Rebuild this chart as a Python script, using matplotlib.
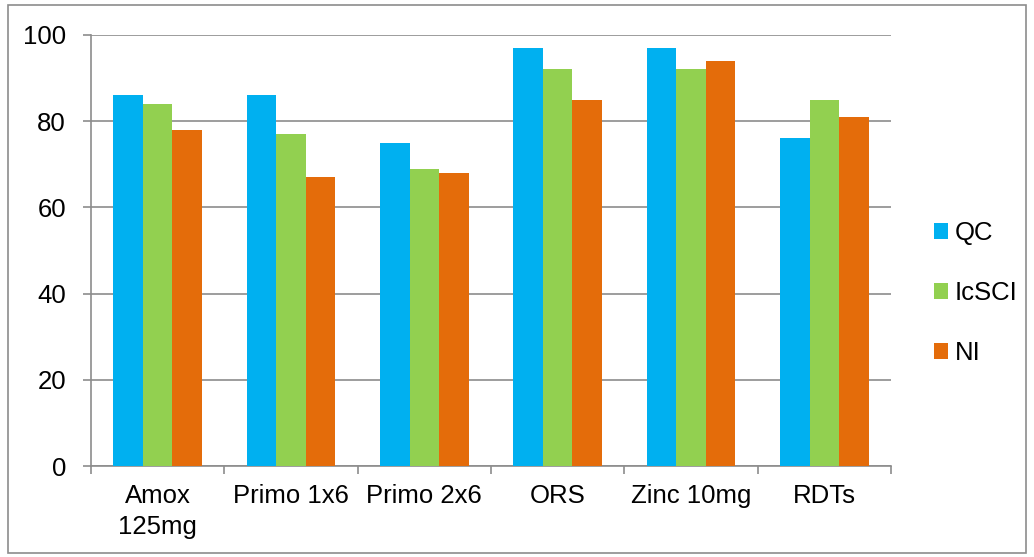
import numpy as np
import matplotlib.pyplot as plt
from matplotlib.patches import Rectangle, Patch

plt.rcParams['font.family'] = ['Liberation Sans', 'DejaVu Sans']

# 数据
categories = ['Amox\n125mg', 'Primo 1x6', 'Primo 2x6', 'ORS', 'Zinc 10mg', 'RDTs']
qc = [86, 86, 75, 97, 97, 76]
icsci = [84, 77, 69, 92, 92, 85]
ni = [78, 67, 68, 85, 94, 81]
series = [('QC', qc, '#00B0F0'), ('IcSCI', icsci, '#92D050'), ('NI', ni, '#E46C0A')]

fs = 18.5

fig = plt.figure(figsize=(10.34, 5.57), dpi=100)
ax = fig.add_axes([91 / 1034, 1 - 466 / 557, 800 / 1034, 431 / 557])

x = np.arange(len(categories))
w = 0.222
for i, (name, vals, color) in enumerate(series):
    ax.bar(x + (i - 1) * w, vals, width=w, color=color, label=name, zorder=3)

ax.set_xlim(-0.5, len(categories) - 0.5)
ax.set_ylim(0, 100)
ax.set_yticks(range(0, 101, 20))
ax.yaxis.grid(True, color='#8c8c8c', linewidth=1.2, zorder=0)

# 分类边界刻度，标签放在中间
ax.set_xticks(np.arange(-0.5, len(categories), 1))
ax.set_xticklabels([])
ax.set_xticks(x, minor=True)
ax.set_xticklabels(categories, minor=True, fontsize=fs, linespacing=1.35)
ax.tick_params(axis='x', which='minor', length=0, pad=13)
ax.tick_params(axis='x', which='major', length=6, width=1.2, color='#8c8c8c')
ax.tick_params(axis='y', length=6, width=1.2, color='#8c8c8c', labelsize=fs, pad=12)

for side in ['top', 'right']:
    ax.spines[side].set_visible(False)
for side in ['left', 'bottom']:
    ax.spines[side].set_color('#8c8c8c')
    ax.spines[side].set_linewidth(1.2)

handles = [Patch(facecolor=c, label=n) for n, _, c in series]
fig.legend(handles=handles, loc='center left', bbox_to_anchor=(921 / 1034, 1 - 293 / 557),
           frameon=False, fontsize=fs, handlelength=0.55, handleheight=0.55,
           handletextpad=0.25, labelspacing=1.4, borderpad=0)

# 外框
fig.patches.append(Rectangle((8 / 1034, 4 / 557), 1018 / 1034, 548 / 557,
                             transform=fig.transFigure, fill=False,
                             edgecolor='#8c8c8c', linewidth=1.2))

plt.savefig('out.png', dpi=100, facecolor='white')
plt.close()
